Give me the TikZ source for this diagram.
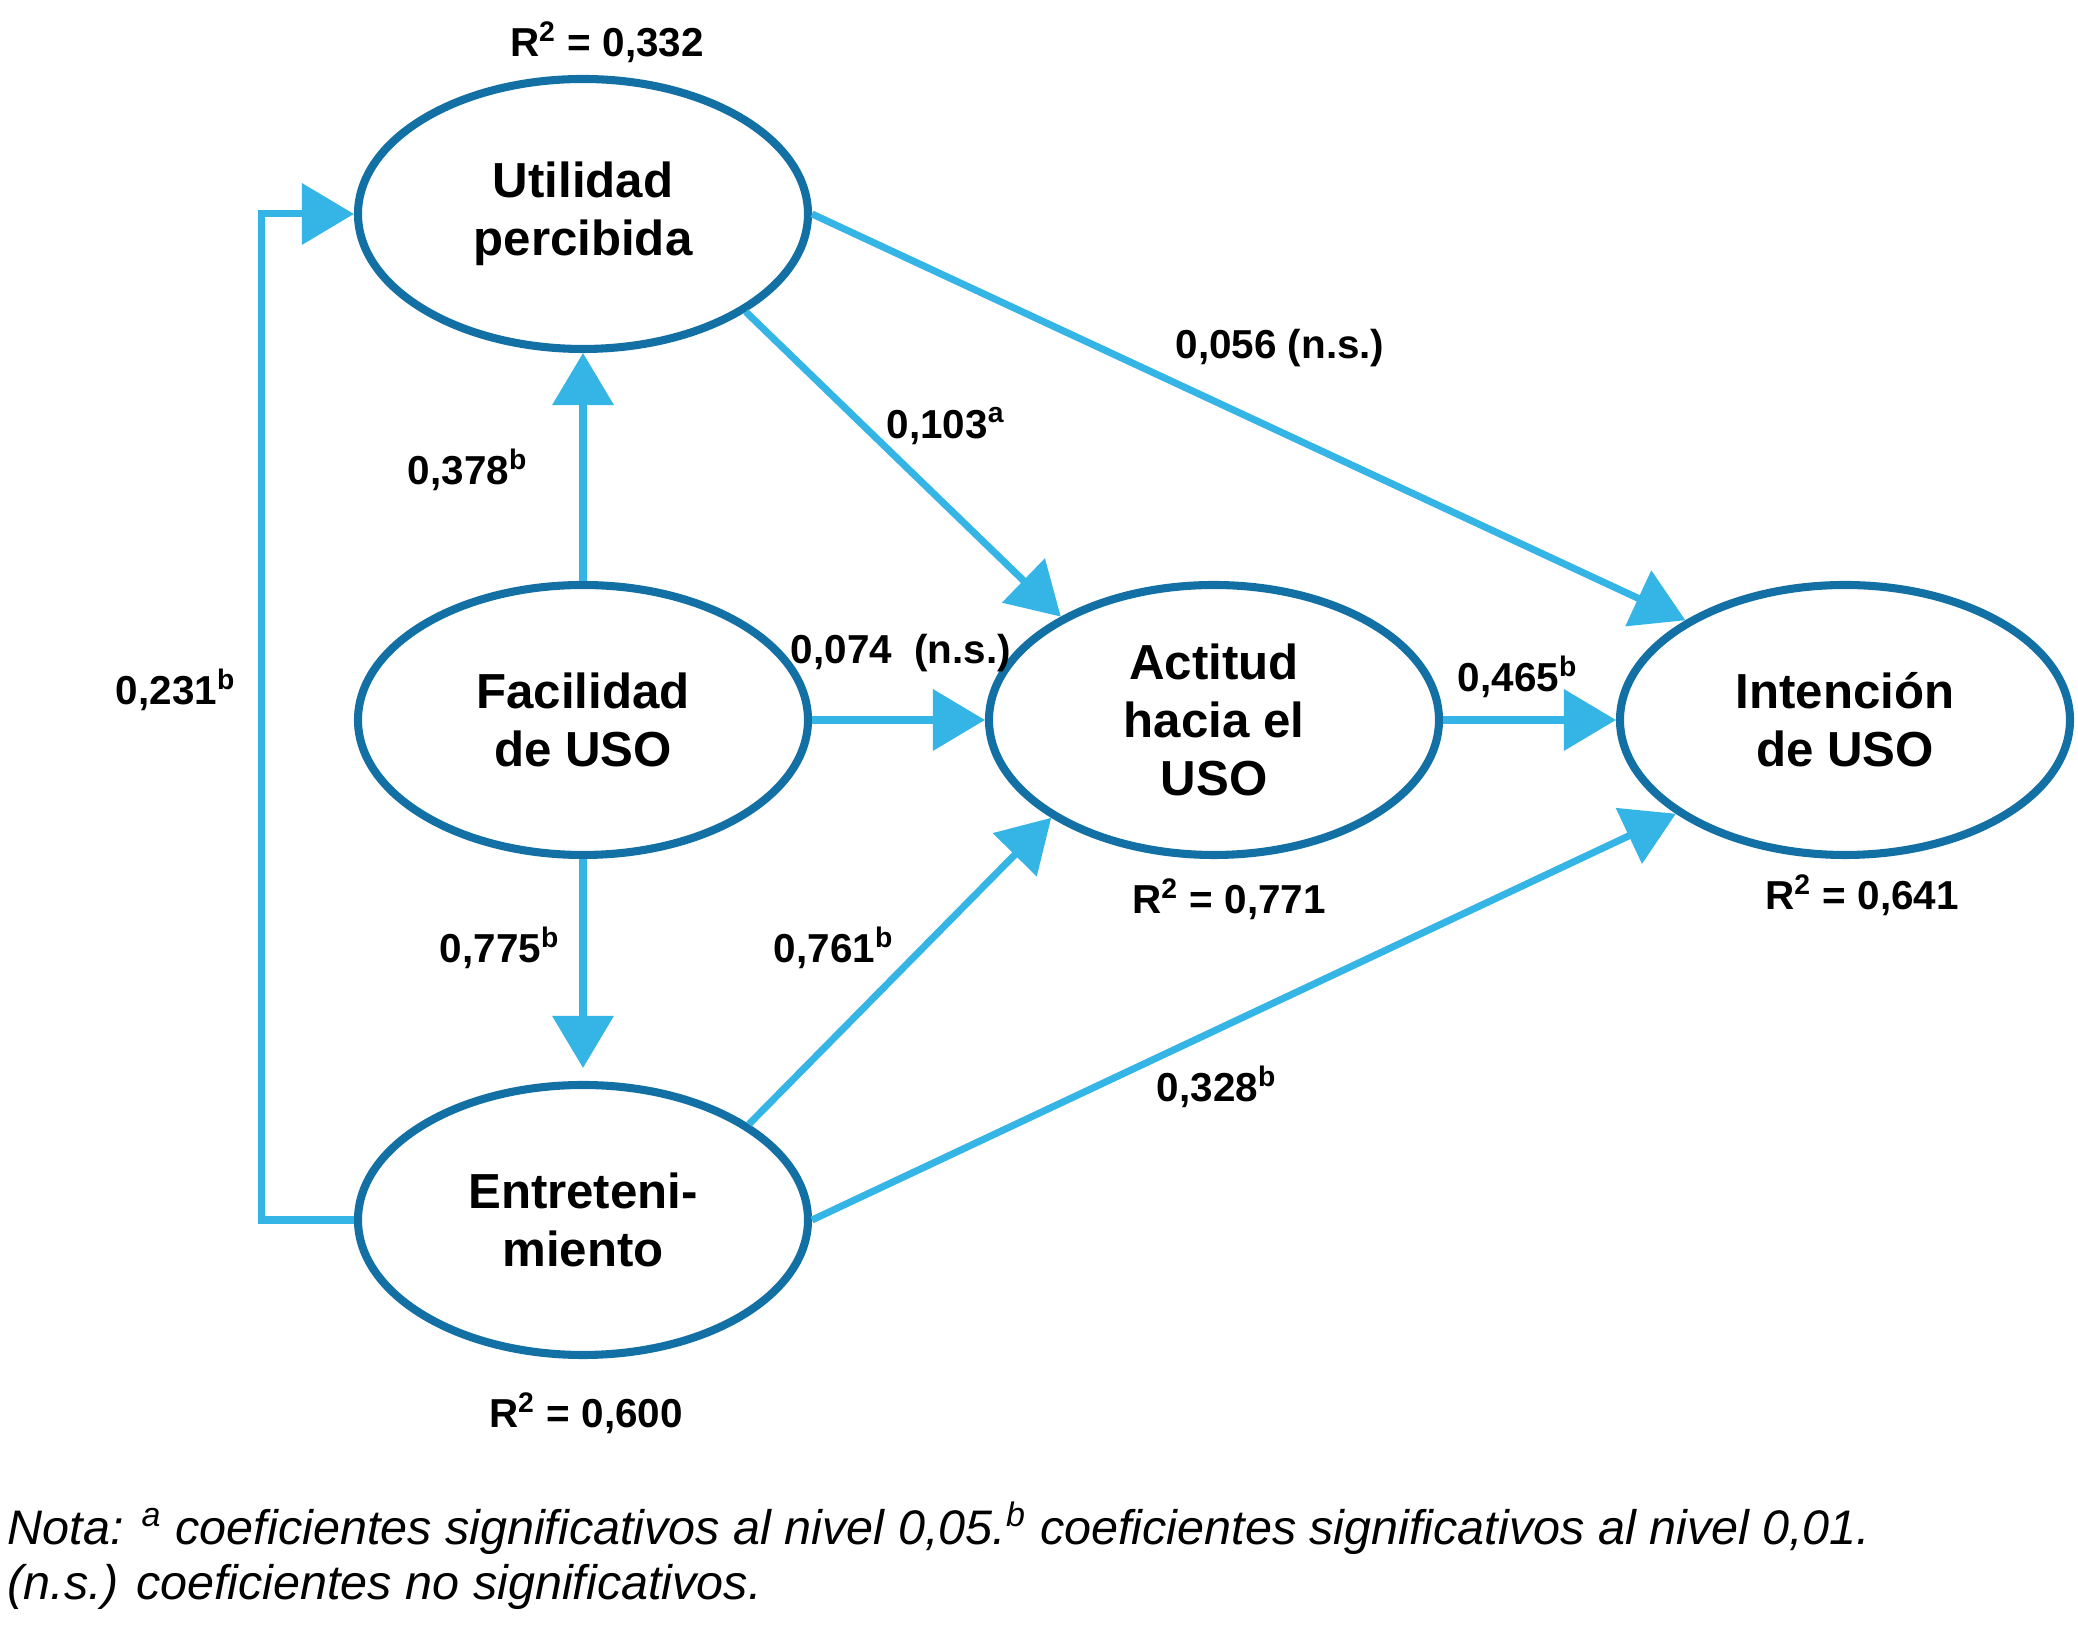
\documentclass[tikz,border=0pt]{standalone}
\usepackage{fontspec}
\setmainfont{Liberation Sans}
\usepackage{xcolor}
\usepackage{tikz}
\usetikzlibrary{arrows.meta,shapes.geometric}

\definecolor{celeste}{RGB}{52,181,229}
\definecolor{azul}{RGB}{18,112,165}

\tikzset{
 constructo/.style={ellipse, draw=azul, line width=2.3pt, minimum width=4.5cm, minimum height=2.7cm,
   inner sep=0pt, align=center, font=\bfseries\fontsize{14}{16.4}\selectfont},
 coef/.style={font=\bfseries\fontsize{11.5}{13}\selectfont, inner sep=1pt},
 nota/.style={anchor=base west, inner sep=0pt, font=\itshape\fontsize{13.8}{15}\selectfont}
}

\begin{document}
\begin{tikzpicture}[>={Triangle[length=5.2mm,width=6mm]}, node distance=6.31cm]
 \useasboundingbox (-5.83,-9.06) rectangle (14.95,7.2);

 \node[constructo] (fac) {Facilidad\\de USO};
 \node[constructo] (util) [above of=fac, node distance=5.06cm] {Utilidad\\percibida};
 \node[constructo] (ent) [below of=fac, node distance=5cm] {Entreteni-\\miento};
 \node[constructo] (act) [right of=fac] {Actitud\\hacia el\\USO};
 \node[constructo] (int) [right of=act] {Intención\\de USO};

 % R2 de cada constructo
 \node[coef] (r2util) at (0.24,6.78) {R\textsuperscript{2} = 0,332};
 \node[coef] (r2act) at (6.46,-1.79) {R\textsuperscript{2} = 0,771};
 \node[coef] (r2int) at (12.79,-1.75) {R\textsuperscript{2} = 0,641};
 \node[coef] (r2ent) at (0.03,-6.93) {R\textsuperscript{2} = 0,600};

 % coeficientes
 \node[coef] (c056) at (6.97,3.72) {0,056 (n.s.)};
 \node[coef] (c103) at (3.63,2.94) {0,103\textsuperscript{a}};
 \node[coef] (c378) at (-1.15,2.50) {0,378\textsuperscript{b}};
 \node[coef] (c231) at (-4.07,0.30) {0,231\textsuperscript{b}};
 \node[coef] (c074) at (3.18,0.67) {0,074~~(n.s.)};
 \node[coef] (c465) at (9.35,0.43) {0,465\textsuperscript{b}};
 \node[coef] (c775) at (-0.83,-2.28) {0,775\textsuperscript{b}};
 \node[coef] (c761) at (2.51,-2.28) {0,761\textsuperscript{b}};
 \node[coef] (c328) at (6.34,-3.67) {0,328\textsuperscript{b}};

 \path[->, color=celeste, line width=2pt]
 (fac) edge (util)
       edge [shorten >=1.3mm] (ent)
       edge (act)
 (act) edge (int)
 (util.-31) edge (act.146)
 (util.east) edge (int.148)
 (ent.30) edge (act.211)
 (ent.east) edge (int.209);
 \draw[->, color=celeste, line width=2pt] (ent.west) -- ++(-0.92,0) |- (util.west);

 \node[nota] (nota1) at (-5.76,-8.25) {Nota: \textsuperscript{a} coeficientes significativos al nivel 0,05.\textsuperscript{b} coeficientes significativos al nivel 0,01.};
 \node[nota] (nota2) at (-5.76,-8.80) {(n.s.) coeficientes no significativos.};
\end{tikzpicture}
\end{document}
